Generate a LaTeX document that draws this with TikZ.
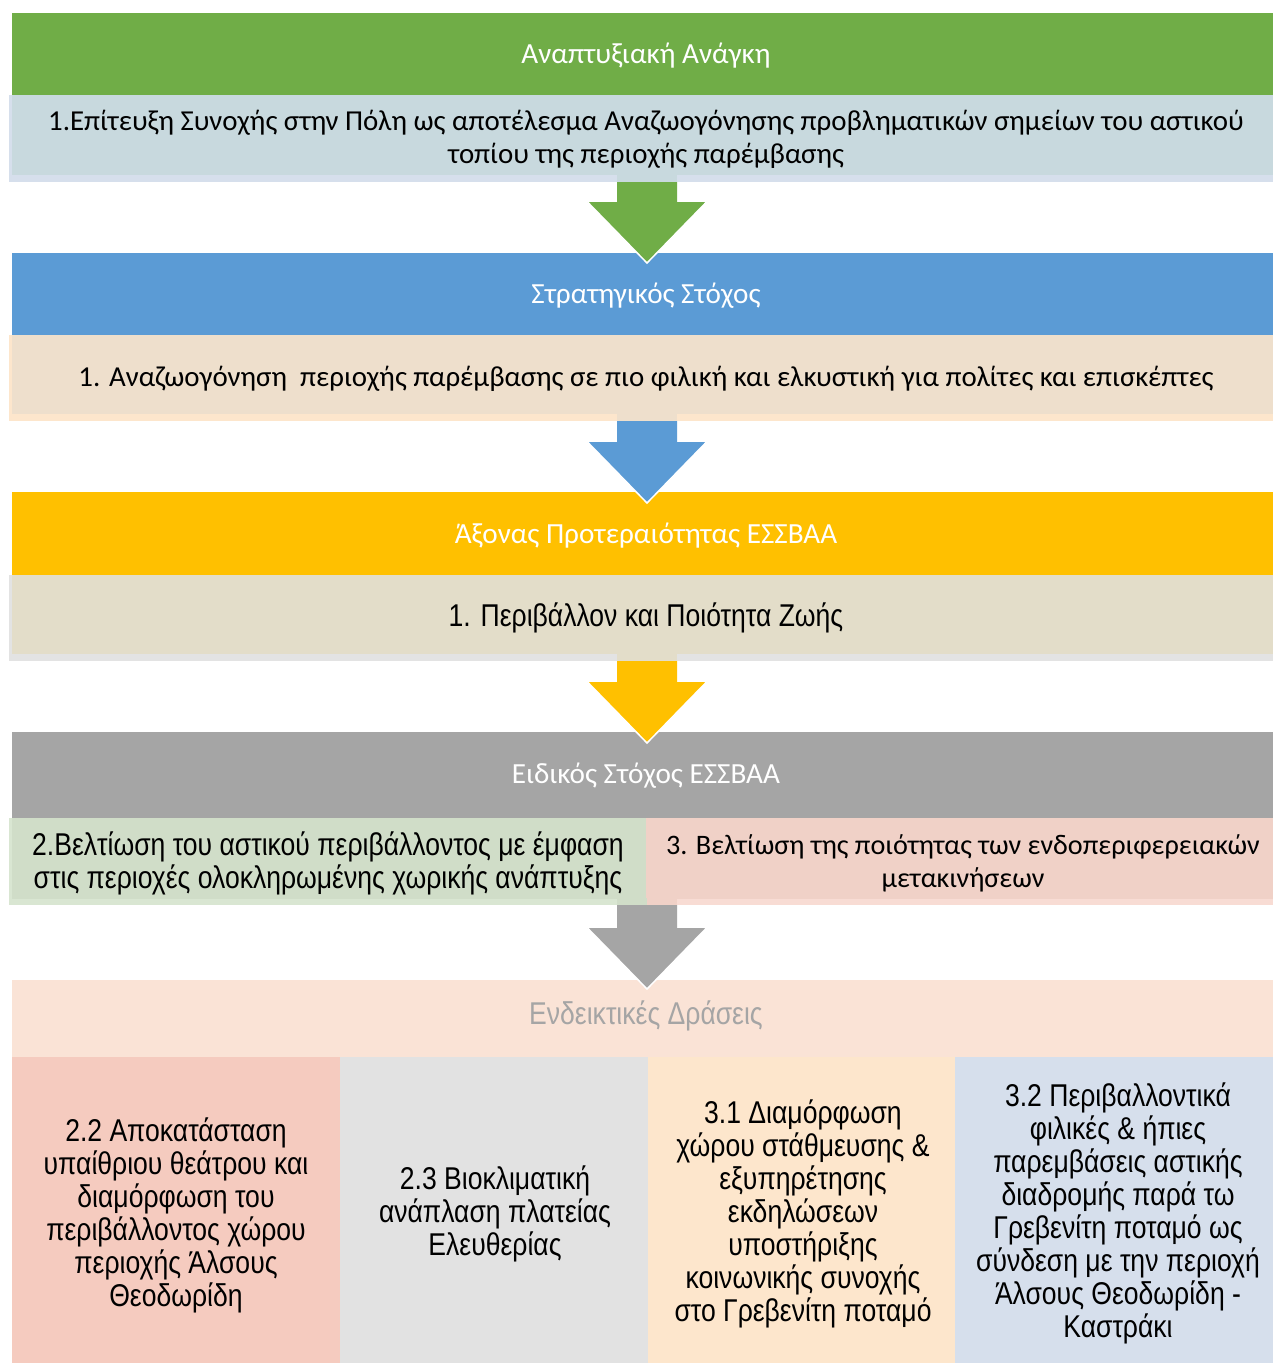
\documentclass[tikz,border=0pt]{standalone}
\usepackage{fontspec}
\setmainfont{Liberation Sans}[FakeStretch=0.843]
\newfontfamily\calfont{Carlito}
\usetikzlibrary{calc}

\definecolor{hgreen}{HTML}{70AD47}
\definecolor{hblue}{HTML}{5B9BD5}
\definecolor{hyellow}{HTML}{FFC000}
\definecolor{hgray}{HTML}{A5A5A5}
\definecolor{hpeach}{HTML}{FAE3D6}
\definecolor{bluebox}{HTML}{C8D9DE}
\definecolor{blueedge}{HTML}{D6DFEC}
\definecolor{beigebox}{HTML}{EEDFCC}
\definecolor{beigeedge}{HTML}{FDE6CC}
\definecolor{sandbox}{HTML}{E3DDC9}
\definecolor{sandedge}{HTML}{E3E3E3}
\definecolor{greenbox}{HTML}{D0DDC8}
\definecolor{greenedge}{HTML}{D9E6D2}
\definecolor{pinkbox}{HTML}{F0D1C7}
\definecolor{pinkedge}{HTML}{F8DCD4}
\definecolor{colA}{HTML}{F5CBBF}
\definecolor{colB}{HTML}{E2E2E2}
\definecolor{colC}{HTML}{FDE6CC}
\definecolor{colD}{HTML}{D6DFEC}

% block arrow: colour, shaft-top coordinate, tip coordinate, strip colours (left, right)
\newcommand\flowarrow[5]{%
  \fill[#4] ($(#2)+(-30,-7)$) rectangle ($(#2)+(0,0)$);
  \fill[#5] ($(#2)+(0,-7)$) rectangle ($(#2)+(30,0)$);
  \fill[#1] ($(#2)+(-30,0)$) -- ($(#2)+(30,0)$) -- ($(#3)+(30,-61)$)
    -- ($(#3)+(59.5,-61)$) -- (#3) -- ($(#3)+(-59.5,-61)$)
    -- ($(#3)+(-30,-61)$) -- cycle;
  \draw[white,line width=1.5pt,line join=miter] ($(#3)+(59.5,-61)$) -- (#3) -- ($(#3)+(-59.5,-61)$);
}

\begin{document}
\begin{tikzpicture}[x=1pt,y=-1pt,
  panel/.style={inner sep=0pt,outer sep=0pt,anchor=north west,draw=none},
  narrowtxt/.style={inner sep=0pt,font=\fontsize{31.5}{33}\selectfont,align=center,text=black},
  caltxt/.style={inner sep=0pt,font=\calfont\fontsize{28.9}{33}\selectfont,align=center,text=black},
  headtxt/.style={inner sep=0pt,font=\calfont\fontsize{29.2}{33}\selectfont,text=white},
]
\useasboundingbox (0,0) rectangle (1273,1363);
\fill[white] (0,0) rectangle (1273,1363);

% --- level 1: development need
\node[panel,fill=hgreen,minimum width=1261pt,minimum height=82pt] (h1) at (12,13) {};
\node[panel,fill=blueedge,minimum width=1264pt,minimum height=87pt] (s1) at (9,95) {};
\node[panel,fill=bluebox,minimum width=1261pt,minimum height=80pt] (b1) at (12,95) {};
\node[headtxt] (t1) at (646,56) {Αναπτυξιακή Ανάγκη};
\node[caltxt] (u1) at (646,139) {1.Επίτευξη Συνοχής στην Πόλη ως αποτέλεσμα Αναζωογόνησης προβληματικών σημείων του αστικού\\τοπίου της περιοχής παρέμβασης};

% --- level 2: strategic goal
\node[panel,fill=hblue,minimum width=1261pt,minimum height=82pt] (h2) at (12,253) {};
\node[panel,fill=beigeedge,minimum width=1264pt,minimum height=86pt] (s2) at (9,335) {};
\node[panel,fill=beigebox,minimum width=1261pt,minimum height=79pt] (b2) at (12,335) {};
\node[headtxt] (t2) at (646,296) {Στρατηγικός Στόχος};
\node[caltxt] (u2) at (646,379) {1. Αναζωογόνηση\ \ περιοχής παρέμβασης σε πιο φιλική και ελκυστική για πολίτες και επισκέπτες};

% --- level 3: priority axis
\node[panel,fill=hyellow,minimum width=1261pt,minimum height=83pt] (h3) at (12,492) {};
\node[panel,fill=sandedge,minimum width=1264pt,minimum height=86pt] (s3) at (9,575) {};
\node[panel,fill=sandbox,minimum width=1261pt,minimum height=79pt] (b3) at (12,575) {};
\node[headtxt] (t3) at (646,536) {Άξονας Προτεραιότητας ΕΣΣΒΑΑ};
\node[narrowtxt] (u3) at (646,618) {1. Περιβάλλον και Ποιότητα Ζωής};

% --- level 4: specific goals
\node[panel,fill=hgray,minimum width=1261pt,minimum height=86pt] (h4) at (12,732) {};
\node[panel,fill=greenedge,minimum width=637pt,minimum height=87pt] (s4a) at (9,818) {};
\node[panel,fill=greenbox,minimum width=634pt,minimum height=81pt] (b4a) at (12,818) {};
\node[panel,fill=pinkedge,minimum width=627pt,minimum height=87pt] (s4b) at (646,818) {};
\node[panel,fill=pinkbox,minimum width=627pt,minimum height=81pt] (b4b) at (646,818) {};
\node[headtxt] (t4) at (646,776) {Ειδικός Στόχος ΕΣΣΒΑΑ};
\node[narrowtxt] (u4a) at (328,863) {2.Βελτίωση του αστικού περιβάλλοντος με έμφαση\\στις περιοχές ολοκληρωμένης χωρικής ανάπτυξης};
\node[caltxt,font=\calfont\fontsize{28.2}{33}\selectfont] (u4b) at (963,863) {3. Βελτίωση της ποιότητας των ενδοπεριφερειακών\\μετακινήσεων};

% --- level 5: indicative actions
\node[panel,fill=hpeach,minimum width=1261pt,minimum height=77pt] (h5) at (12,980) {};
\node[narrowtxt,text=hgray] (t5) at (646,1016) {Ενδεικτικές Δράσεις};
\node[panel,fill=colA,minimum width=328pt,minimum height=306pt] (c1) at (12,1057) {};
\node[panel,fill=colB,minimum width=308pt,minimum height=306pt] (c2) at (340,1057) {};
\node[panel,fill=colC,minimum width=307pt,minimum height=306pt] (c3) at (648,1057) {};
\node[panel,fill=colD,minimum width=318pt,minimum height=306pt] (c4) at (955,1057) {};
\node[narrowtxt] (d1) at (176,1215) {2.2 Αποκατάσταση\\υπαίθριου θεάτρου και\\διαμόρφωση του\\περιβάλλοντος χώρου\\περιοχής Άλσους\\Θεοδωρίδη};
\node[narrowtxt] (d2) at (495,1214) {2.3 Βιοκλιματική\\ανάπλαση πλατείας\\Ελευθερίας};
\node[narrowtxt] (d3) at (803,1214) {3.1 Διαμόρφωση\\χώρου στάθμευσης \&\\εξυπηρέτησης\\εκδηλώσεων\\υποστήριξης\\κοινωνικής συνοχής\\στο Γρεβενίτη ποταμό};
\node[narrowtxt] (d4) at (1118,1213) {3.2 Περιβαλλοντικά\\φιλικές \& ήπιες\\παρεμβάσεις αστικής\\διαδρομής παρά τω\\Γρεβενίτη ποταμό ως\\σύνδεση με την περιοχή\\Άλσους Θεοδωρίδη -\\Καστράκι};

% --- block arrows between the levels
\coordinate (a1top) at (647,182);  \coordinate (a1tip) at (647,263);
\coordinate (a2top) at (647,421);  \coordinate (a2tip) at (647,503);
\coordinate (a3top) at (647,661);  \coordinate (a3tip) at (647,743);
\coordinate (a4top) at (647,905);  \coordinate (a4tip) at (647,989);
\flowarrow{hgreen}{a1top}{a1tip}{bluebox}{bluebox}
\flowarrow{hblue}{a2top}{a2tip}{beigebox}{beigebox}
\flowarrow{hyellow}{a3top}{a3tip}{sandbox}{sandbox}
\flowarrow{hgray}{a4top}{a4tip}{greenbox}{pinkbox}
\end{tikzpicture}
\end{document}
